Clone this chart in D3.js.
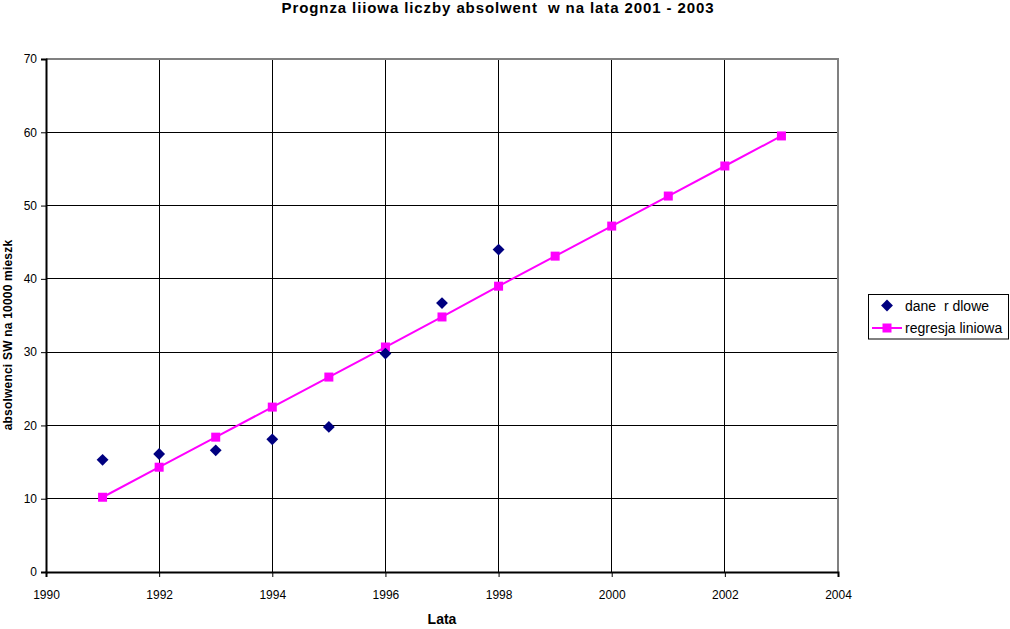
<!DOCTYPE html>
<html>
<head>
<meta charset="utf-8">
<script src="https://cdn.jsdelivr.net/npm/d3@7"></script>
<style>
  html, body { margin: 0; padding: 0; background: #fff; }
  svg { display: block; font-family: "Liberation Sans", Arial, sans-serif; }
  text { white-space: pre; }
</style>
</head>
<body>
<svg id="chart" width="1010" height="629"></svg>
<script>
const titleText = "Prognza liiowa liczby absolwent  w na lata 2001 - 2003";
const xTitle = "Lata";
const yTitle = "absolwenci SW na 10000 mieszk";
const seriesNames = ["dane  r dlowe", "regresja liniowa"];

const dataYears = [1991, 1992, 1993, 1994, 1995, 1996, 1997, 1998];
const dataValues = [15.3, 16.1, 16.6, 18.1, 19.8, 29.8, 36.7, 44.0];

const regYears = [1991, 1992, 1993, 1994, 1995, 1996, 1997, 1998, 1999, 2000, 2001, 2002, 2003];
const regValues = [10.2, 14.3, 18.4, 22.5, 26.6, 30.7, 34.8, 39.0, 43.1, 47.2, 51.3, 55.4, 59.5];

const xTicks = [1990, 1992, 1994, 1996, 1998, 2000, 2002, 2004];
const yTicks = [0, 10, 20, 30, 40, 50, 60, 70];

const svg = d3.select("#chart");
const L = 46, R = 838, T = 59, B = 572;

const x = d3.scaleLinear().domain([1990, 2004]).range([L, R]);
const y = d3.scaleLinear().domain([0, 70]).range([B, T]);

// grid lines
svg.append("g").selectAll("line.h").data(yTicks.filter(d => d > 0 && d < 70)).enter()
  .append("line").attr("x1", L).attr("x2", R)
  .attr("y1", d => y(d)).attr("y2", d => y(d))
  .attr("stroke", "#000").attr("stroke-width", 1).attr("shape-rendering", "crispEdges");
svg.append("g").selectAll("line.v").data(xTicks.filter(d => d > 1990 && d < 2004)).enter()
  .append("line").attr("y1", T).attr("y2", B)
  .attr("x1", d => x(d)).attr("x2", d => x(d))
  .attr("stroke", "#000").attr("stroke-width", 1).attr("shape-rendering", "crispEdges");

// plot border (top/right gray)
svg.append("path")
  .attr("d", `M${L},${T}H${R}V${B}`)
  .attr("fill", "none").attr("stroke", "#808080").attr("stroke-width", 2);

// axes
const yAxis = d3.axisLeft(y).tickValues(yTicks).tickSize(5).tickPadding(4).tickFormat(d3.format("d"));
const gy = svg.append("g").attr("transform", `translate(${L},0)`).call(yAxis);
const xAxis = d3.axisBottom(x).tickValues(xTicks).tickSize(5).tickPadding(13).tickFormat(d3.format("d"));
const gx = svg.append("g").attr("transform", `translate(0,${B})`).call(xAxis);
[gx, gy].forEach(g => {
  g.select(".domain").attr("stroke", "#000").attr("stroke-width", 2);
  g.selectAll(".tick line").attr("stroke", "#000");
  g.selectAll(".tick text").attr("fill", "#000")
    .style("font-family", "'Liberation Sans', Arial, sans-serif").style("font-size", "12px");
});

// regression line
const line = d3.line().x((d, i) => x(regYears[i])).y(d => y(d));
svg.append("path").datum(regValues).attr("d", line)
  .attr("fill", "none").attr("stroke", "#FF00FF").attr("stroke-width", 2);
svg.append("g").selectAll("rect").data(regValues).enter().append("rect")
  .attr("x", (d, i) => x(regYears[i]) - 4.5).attr("y", d => y(d) - 4.5)
  .attr("width", 9).attr("height", 9).attr("fill", "#FF00FF");

// data diamonds
const diamond = d3.symbol().type(d3.symbolSquare).size(70);
svg.append("g").selectAll("path").data(dataValues).enter().append("path")
  .attr("d", diamond)
  .attr("transform", (d, i) => `translate(${x(dataYears[i])},${y(d)}) rotate(45)`)
  .attr("fill", "#000080");

// titles
svg.append("text").attr("x", 498).attr("y", 13).attr("text-anchor", "middle")
  .style("font-size", "15px").style("font-weight", "bold").style("letter-spacing", "0.9px")
  .text(titleText);
svg.append("text").attr("x", 442).attr("y", 624).attr("text-anchor", "middle")
  .style("font-size", "14px").style("font-weight", "bold").text(xTitle);
svg.append("text").attr("transform", "translate(12,335) rotate(-90)").attr("text-anchor", "middle")
  .style("font-size", "12px").style("font-weight", "bold").style("letter-spacing", "0.2px").text(yTitle);

// legend
const lg = svg.append("g");
lg.append("rect").attr("x", 868.5).attr("y", 294.5).attr("width", 140).attr("height", 44.5)
  .attr("fill", "#fff").attr("stroke", "#000").attr("stroke-width", 1);
lg.append("path").attr("d", diamond)
  .attr("transform", "translate(887,305.5) rotate(45)").attr("fill", "#000080");
lg.append("text").attr("x", 905).attr("y", 311).style("font-size", "14px").text(seriesNames[0]);
lg.append("line").attr("x1", 872).attr("x2", 902).attr("y1", 328).attr("y2", 328)
  .attr("stroke", "#FF00FF").attr("stroke-width", 2);
lg.append("rect").attr("x", 882.5).attr("y", 323.5).attr("width", 9).attr("height", 9).attr("fill", "#FF00FF");
lg.append("text").attr("x", 905).attr("y", 333).style("font-size", "14px").text(seriesNames[1]);
</script>
</body>
</html>
